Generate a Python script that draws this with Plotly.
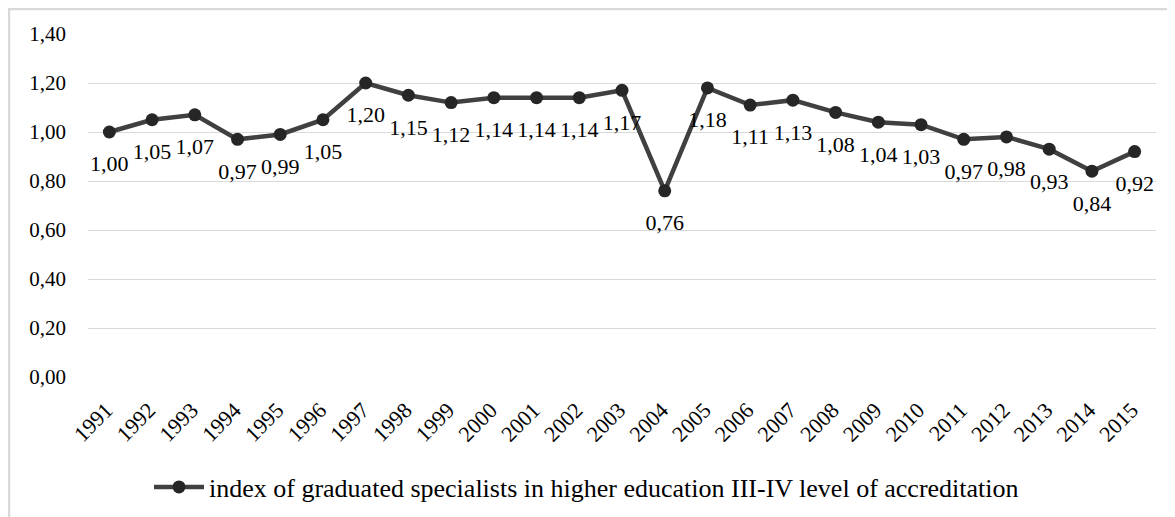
import plotly.graph_objects as go

years = [str(y) for y in range(1991, 2016)]
index_values = [1.00, 1.05, 1.07, 0.97, 0.99, 1.05, 1.20, 1.15, 1.12, 1.14, 1.14, 1.14, 1.17,
                0.76, 1.18, 1.11, 1.13, 1.08, 1.04, 1.03, 0.97, 0.98, 0.93, 0.84, 0.92]
series_name = "index of graduated specialists in higher education III-IV level of accreditation"
y_ticks = [0.0, 0.2, 0.4, 0.6, 0.8, 1.0, 1.2, 1.4]

labels = [f"{v:.2f}".replace(".", ",") for v in index_values]

FONT = "Liberation Serif, Times New Roman, serif"

fig = go.Figure()
fig.add_trace(go.Scatter(
    x=years, y=index_values, mode="lines+markers",
    name=series_name,
    line=dict(color="#404040", width=4.5),
    marker=dict(color="#262626", size=13, line=dict(width=0)),
    cliponaxis=False,
))
# data labels (placed below each point, offset through an invisible marker)
fig.add_trace(go.Scatter(
    x=years, y=index_values, mode="markers+text",
    text=labels, textposition="bottom center",
    textfont=dict(family=FONT, size=22, color="#000000"),
    marker=dict(color="rgba(0,0,0,0)", size=35),
    showlegend=False, hoverinfo="skip", cliponaxis=False,
))

# page is offset by the browser's 8px body margin
W, H = 1175, 517
L, T = 80, 26
PR, PB = 1148, 369.3
R, B = W - PR, H - PB
pw, ph = PR - L, PB - T

def px2x(px):
    return (px - L) / pw

def py2y(py):
    return (PB - py) / ph

fig.update_layout(
    width=W, height=H,
    margin=dict(l=L, r=R, t=T, b=B, pad=0),
    paper_bgcolor="white", plot_bgcolor="white",
    separators=", ",
    font=dict(family=FONT, size=20, color="#000000"),
    showlegend=True,
    legend=dict(orientation="h", xref="container", yref="container",
                x=141 / W, xanchor="left", y=(H - 479) / H, yanchor="middle",
                itemwidth=50,
                font=dict(family=FONT, size=26, color="#000000"),
                bgcolor="rgba(0,0,0,0)"),
    xaxis=dict(type="category", range=[-0.5, len(years) - 0.5], tickangle=-45,
               showgrid=False, showline=False, zeroline=False,
               ticks="", automargin=False, ticklabelstandoff=15, ticklabelshift=-3,
               tickfont=dict(family=FONT, size=22, color="#000000")),
    yaxis=dict(range=[0, 1.4], tickvals=y_ticks, tickformat=".2f", showgrid=True,
               gridcolor="#d9d9d9", gridwidth=1.3, zeroline=False, showline=False, ticks="",
               ticklabelstandoff=21, automargin=False,
               tickfont=dict(family=FONT, size=21, color="#000000")),
    shapes=[
        dict(type="line", xref="paper", yref="paper", x0=px2x(0), x1=px2x(1180), y0=py2y(1), y1=py2y(1),
             line=dict(color="#d9d9d9", width=2.5)),
        dict(type="line", xref="paper", yref="paper", x0=px2x(1), x1=px2x(1), y0=py2y(0), y1=py2y(520),
             line=dict(color="#d9d9d9", width=2.5)),
    ],
)

fig.write_html("out.html")
